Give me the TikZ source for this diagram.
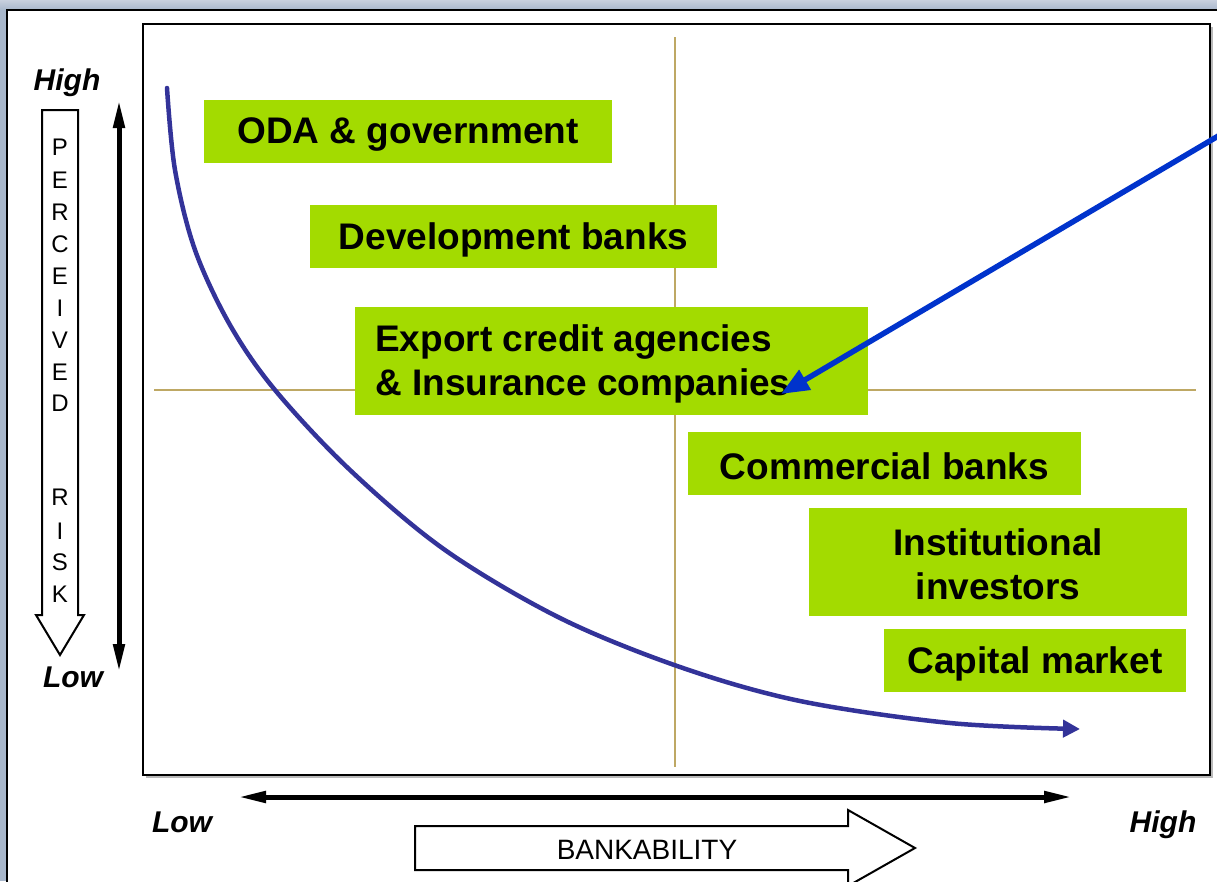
\documentclass[tikz,border=0pt]{standalone}
\usepackage{fontspec}
\setmainfont{Liberation Sans}
\usetikzlibrary{arrows.meta}
\definecolor{bg}{RGB}{168,183,203}
\definecolor{bgtop}{RGB}{200,208,222}
\definecolor{lime}{RGB}{163,219,0}
\definecolor{tanline}{RGB}{190,168,100}
\definecolor{curveblue}{RGB}{51,51,153}
\definecolor{arrowblue}{RGB}{0,51,204}
\tikzset{
  greenfill/.style={fill=lime},
  boxtext/.style={inner sep=0pt, font=\fontsize{37}{44}\selectfont\bfseries},
  axislabel/.style={font=\fontsize{30}{36}\selectfont\bfseries\itshape},
  risklet/.style={font=\fontsize{24}{28}\selectfont, inner sep=0pt},
  guide/.style={draw=tanline, line width=2.5pt},
  dblarrow/.style={line width=5pt, {Triangle[length=28pt,width=11pt]}-{Triangle[length=28pt,width=11pt]}},
  hollow/.style={draw=black, line width=2pt, fill=white}
}
\begin{document}
\begin{tikzpicture}[x=1pt,y=-1pt]
\useasboundingbox (0,0) rectangle (1217,881);
% background
\fill[bg] (0,0) rectangle (1217,881);
\fill[top color=bgtop, bottom color=bg] (0,0) rectangle (1217,10);
\draw[line width=2pt, fill=white] (7,10) rectangle (1235,900);
% chart frame with shadow
\fill[gray!55] (146,27) rectangle (1213,778);
\draw[line width=2.5pt, fill=white] (143,24) rectangle (1210,775);
% guide lines
\draw[guide] (675,37) -- (675,767);
\draw[guide] (154,390) -- (1196,390);
% boxes
\fill[greenfill] (204,100) rectangle (612,163);
\node[boxtext] (oda) at (408,134.5) {ODA \& government};
\fill[greenfill] (310,205) rectangle (717,268);
\node[boxtext] (dev) at (513.5,239.5) {Development banks};
\fill[greenfill] (355,307) rectangle (868,415);
\node[boxtext, anchor=west, align=left] (eca) at (375,364) {Export credit agencies\\\& Insurance companies};
\fill[greenfill] (688,432) rectangle (1081,495);
\node[boxtext] (com) at (884.5,466.5) {Commercial banks};
\fill[greenfill] (809,508) rectangle (1187,616);
\node[boxtext, align=center] (inst) at (998,564) {Institutional\\investors};
\fill[greenfill] (884,629) rectangle (1186,692);
\node[boxtext] (cap) at (1035,663.5) {Capital market};
% curve
\draw[curveblue, line width=4.5pt, line cap=round, -{Triangle[length=17pt,width=17pt]}]
  plot[smooth, tension=0.55] coordinates {(167,88) (175,170) (195,250) (230,325) (275,390) (350,470) (445,550) (560,618) (680,667) (800,701) (950,723) (1080,729)};
% blue pointer
\coordinate (ptrstart) at (1225,132);
\coordinate (ptrend) at (781,394);
\draw[arrowblue, line width=5.5pt, -{Triangle[length=28pt,width=22pt]}] (ptrstart) -- (ptrend);
% vertical axis
\node[axislabel] (hi1) at (67,83) {High};
\node[axislabel] (lo1) at (73,677) {Low};
\draw[hollow] (42,110) -- (78,110) -- (78,615) -- (84,615) -- (60,655) -- (36,615) -- (42,615) -- cycle;
\foreach \l/\y [count=\i] in {P/147,E/180,R/212,C/244,E/276,I/308,V/340,E/372,D/403,R/497,I/531,S/562,K/594}
  \node[risklet] (rl\i) at (60,\y) {\l};
\coordinate (vtop) at (119,100);
\coordinate (vbot) at (119,672);
\draw[dblarrow] (vtop) -- (vbot);
% horizontal axis
\coordinate (hl) at (238,797);
\coordinate (hr) at (1072,797);
\draw[dblarrow] (hl) -- (hr);
\node[axislabel] (lo2) at (182,822) {Low};
\node[axislabel] (hi2) at (1163,825) {High};
\draw[hollow] (415,826) -- (848,826) -- (848,810) -- (915,848) -- (848,886) -- (848,870) -- (415,870) -- cycle;
\node[font=\fontsize{28}{32}\selectfont] (bank) at (647,850) {BANKABILITY};
\end{tikzpicture}
\end{document}
